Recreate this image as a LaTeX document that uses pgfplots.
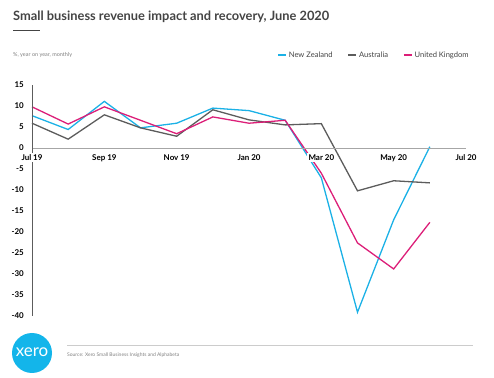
\documentclass[border=0pt]{standalone}
\usepackage{fontspec}
\setmainfont{Lato}
\usepackage{pgfplots}
\pgfplotsset{compat=1.18}
\definecolor{nzblue}{HTML}{1BB1E6}
\definecolor{augray}{HTML}{5C5C5C}
\definecolor{ukpink}{HTML}{DC1E78}
\definecolor{xeroblue}{HTML}{13B5EA}
\definecolor{txtgray}{HTML}{444444}
\begin{document}
\begin{tikzpicture}
\path[use as bounding box] (0bp,0bp) rectangle (494bp,378bp);
% title
\node[anchor=base west, inner sep=0pt, text=txtgray] at (13bp,357bp) {\fontsize{12.9}{14}\selectfont\bfseries Small business revenue impact and recovery, June 2020};
\draw[txtgray, line width=0.8bp] (13bp,347.5bp) -- (40bp,347.5bp);
\node[anchor=west, inner sep=0pt, text=gray] at (13bp,323bp) {\fontsize{5.5}{6}\selectfont \%, year on year, monthly};
\begin{axis}[
  at={(32bp,62bp)}, anchor=south west,
  scale only axis, width=434bp, height=231bp,
  xmin=0, xmax=12, ymin=-40, ymax=15,
  axis x line=middle, axis y line=left,
  axis line style={-},
  x axis line style={draw=gray!70, line width=0.6bp},
  y axis line style={draw=augray, line width=0.6bp},
  hide obscured x ticks=false, hide obscured y ticks=false,
  major tick length=0pt,
  xtick={0,2,4,6,8,10,12},
  xticklabels={Jul 19,Sep 19,Nov 19,Jan 20,Mar 20,May 20,Jul 20},
  ytick={-40,-35,-30,-25,-20,-15,-10,-5,0,5,10,15},
  yticklabels={-40,-35,-30,-25,-20,-15,-10,-5,0,5,10,15},
  tick label style={font=\fontsize{8}{9}\selectfont\bfseries, text=black},
  xticklabel style={anchor=north, inner sep=1.5bp, yshift=-4.5bp, fill=white},
  yticklabel style={anchor=east, inner sep=0pt, xshift=-8bp},
  axis on top,
  clip=false,
  legend columns=3,
  legend style={draw=none, fill=none, at={(1.018,1.13)}, anchor=east,
    font=\fontsize{7.6}{8}\selectfont, text=txtgray,
    /tikz/every even column/.append style={column sep=13bp}},
  legend image code/.code={\draw[#1, line width=1.5bp] (0bp,0bp) -- (8bp,0bp);},
  every axis plot/.append style={line width=1.3bp, mark=none},
]
\addplot[nzblue] coordinates {(0,7.7) (1,4.4) (2,11.1) (3,4.8) (4,5.9) (5,9.5) (6,8.9) (7,6.6) (8,-7.1) (9,-39.1) (10,-17.1) (11,0.3)};
\addlegendentry{New Zealand}
\addplot[augray] coordinates {(0,5.9) (1,2.1) (2,7.9) (3,4.8) (4,2.8) (5,9.1) (6,6.7) (7,5.5) (8,5.8) (9,-10.2) (10,-7.8) (11,-8.3)};
\addlegendentry{Australia}
\addplot[ukpink] coordinates {(0,9.8) (1,5.7) (2,9.8) (3,6.6) (4,3.4) (5,7.4) (6,5.9) (7,6.6) (8,-6.0) (9,-22.6) (10,-28.8) (11,-17.7)};
\addlegendentry{United Kingdom}
\end{axis}
% footer
\fill[xeroblue] (32bp,25bp) circle (20bp);
\node[text=white, inner sep=0pt] at (32bp,26bp) {\fontsize{17}{18}\selectfont xero};
\draw[gray!40, line width=0.8bp] (67bp,33bp) -- (473bp,33bp);
\node[anchor=west, inner sep=0pt, text=gray] at (67bp,23bp) {\fontsize{5}{6}\selectfont Source: Xero Small Business Insights and Alphabeta};
\end{tikzpicture}
\end{document}
